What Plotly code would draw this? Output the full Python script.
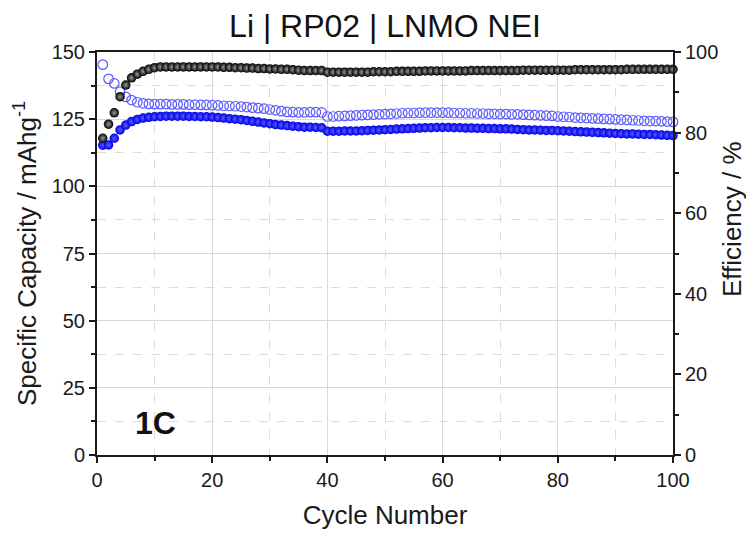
import plotly.graph_objects as go

cycles = list(range(1, 101))

charge_capacity = [
    145.3, 140.0, 138.3, 135.2, 133.3, 132.1, 131.3, 130.9, 130.7, 130.6,
    130.6, 130.6, 130.5, 130.5, 130.5, 130.4, 130.4, 130.3, 130.3, 130.2,
    130.1, 130.0, 129.9, 129.8, 129.7, 129.5, 129.3, 129.1, 128.9, 128.6,
    128.3, 128.0, 127.7, 127.6, 127.5, 127.5, 127.6, 127.6, 127.5, 126.0,
    126.0, 126.1, 126.2, 126.3, 126.4, 126.5, 126.6, 126.7, 126.8, 126.9,
    127.0, 127.1, 127.2, 127.3, 127.3, 127.4, 127.4, 127.4, 127.4, 127.4,
    127.4, 127.3, 127.3, 127.2, 127.2, 127.1, 127.1, 127.0, 127.0, 126.9,
    126.9, 126.8, 126.8, 126.7, 126.6, 126.5, 126.4, 126.3, 126.2, 126.0,
    125.9, 125.8, 125.6, 125.5, 125.4, 125.3, 125.2, 125.1, 125.0, 124.9,
    124.8, 124.7, 124.6, 124.5, 124.4, 124.3, 124.3, 124.2, 124.1, 124.0,
]

discharge_capacity = [
    115.3, 115.4, 117.9, 121.0, 122.8, 124.1, 124.9, 125.4, 125.7, 125.9,
    126.0, 126.1, 126.1, 126.1, 126.1, 126.0, 126.0, 125.9, 125.9, 125.8,
    125.6, 125.4, 125.2, 125.0, 124.8, 124.5, 124.2, 123.9, 123.6, 123.3,
    123.0, 122.8, 122.6, 122.4, 122.2, 122.0, 122.0, 121.9, 121.8, 120.5,
    120.5, 120.5, 120.6, 120.6, 120.6, 120.7, 120.8, 120.9, 121.0, 121.1,
    121.2, 121.3, 121.4, 121.5, 121.6, 121.7, 121.8, 121.8, 121.9, 121.9,
    121.9, 121.8, 121.8, 121.7, 121.7, 121.6, 121.6, 121.5, 121.5, 121.4,
    121.4, 121.3, 121.2, 121.1, 121.0, 121.0, 120.9, 120.8, 120.8, 120.7,
    120.6, 120.5, 120.4, 120.3, 120.2, 120.1, 120.0, 119.9, 119.8, 119.7,
    119.6, 119.5, 119.5, 119.4, 119.3, 119.3, 119.2, 119.1, 119.0, 118.9,
]

efficiency = [
    78.6, 82.1, 84.9, 88.9, 91.8, 93.6, 94.5, 95.2, 95.7, 96.1,
    96.3, 96.3, 96.3, 96.3, 96.3, 96.3, 96.3, 96.3, 96.3, 96.3,
    96.3, 96.2, 96.2, 96.1, 96.1, 96.0, 96.0, 95.9, 95.9, 95.8,
    95.8, 95.7, 95.7, 95.6, 95.5, 95.4, 95.4, 95.4, 95.4, 95.0,
    95.0, 95.0, 95.0, 95.0, 95.0, 95.0, 95.0, 95.1, 95.1, 95.1,
    95.1, 95.2, 95.2, 95.2, 95.2, 95.2, 95.3, 95.3, 95.3, 95.3,
    95.3, 95.3, 95.3, 95.3, 95.4, 95.4, 95.4, 95.4, 95.4, 95.4,
    95.4, 95.4, 95.4, 95.5, 95.5, 95.5, 95.5, 95.5, 95.5, 95.5,
    95.5, 95.5, 95.6, 95.6, 95.6, 95.6, 95.6, 95.6, 95.6, 95.6,
    95.6, 95.7, 95.7, 95.7, 95.7, 95.7, 95.7, 95.7, 95.7, 95.7,
]

x_ticks = [0, 20, 40, 60, 80, 100]
y_ticks = [0, 25, 50, 75, 100, 125, 150]
y2_ticks = [0, 20, 40, 60, 80, 100]

title_text = "Li | RP02 | LNMO NEI"
x_title = "Cycle Number"
y_title = "Specific Capacity / mAhg<sup>-1</sup>"
y2_title = "Efficiency / %"
rate_label = "<b>1C</b>"

FONT = "Liberation Sans, Arial, sans-serif"
INK = "#1a1a1a"

fig = go.Figure()

fig.add_trace(go.Scatter(
    x=cycles, y=charge_capacity, mode="markers", name="Charge",
    marker=dict(symbol="circle-open", size=9.5, color="#5a5aff",
                line=dict(width=1.2, color="#5a5aff")),
    cliponaxis=False,
))
fig.add_trace(go.Scatter(
    x=cycles, y=discharge_capacity, mode="markers", name="Discharge",
    marker=dict(symbol="circle", size=9.5, color="#0000e8",
                gradient=dict(type="radial", color="#5c5cff"),
                line=dict(width=0)),
    cliponaxis=False,
))
fig.add_trace(go.Scatter(
    x=cycles, y=efficiency, mode="markers", name="Efficiency", yaxis="y2",
    marker=dict(symbol="circle", size=9.5, color="#000000",
                gradient=dict(type="radial", color="#9a9a9a"),
                line=dict(width=0)),
    cliponaxis=False,
))

tick_font = dict(family=FONT, size=20, color=INK)
title_font = dict(family=FONT, size=26, color=INK)

fig.update_layout(
    width=746, height=534,
    margin=dict(l=97, r=73, t=52, b=79, autoexpand=False),
    paper_bgcolor="white", plot_bgcolor="white",
    showlegend=False,
    title=dict(text=title_text, xref="paper", x=0.5, xanchor="center",
               yref="container", y=0.951, yanchor="middle",
               font=dict(family=FONT, size=32, color="#111111")),
    xaxis=dict(
        range=[0, 100], tickmode="array", tickvals=x_ticks,
        showline=True, linecolor=INK, linewidth=2, mirror=True,
        ticks="outside", ticklen=6, tickwidth=1.5, tickcolor=INK,
        tickfont=tick_font, automargin=False,
        showgrid=True, gridcolor="#d9d9d9", gridwidth=1,
        minor=dict(dtick=10, tick0=0, ticks="outside", ticklen=4, tickcolor=INK,
                   showgrid=True, gridcolor="#dcdcdc", griddash="dash", gridwidth=1),
        zeroline=False,
        title=dict(text=x_title, font=title_font, standoff=16),
    ),
    yaxis=dict(
        range=[0, 150], tickmode="array", tickvals=y_ticks,
        showline=True, linecolor=INK, linewidth=2,
        ticks="outside", ticklen=6, tickwidth=1.5, tickcolor=INK,
        tickfont=tick_font, automargin=False,
        showgrid=True, gridcolor="#d9d9d9", gridwidth=1,
        minor=dict(dtick=12.5, tick0=0, ticks="outside", ticklen=4, tickcolor=INK,
                   showgrid=True, gridcolor="#dcdcdc", griddash="dash", gridwidth=1),
        zeroline=False,
        title=dict(text=y_title, font=title_font, standoff=8),
    ),
    yaxis2=dict(
        range=[0, 100], overlaying="y", side="right",
        tickmode="array", tickvals=y2_ticks,
        showline=True, linecolor=INK, linewidth=2,
        ticks="outside", ticklen=6, tickwidth=1.5, tickcolor=INK,
        tickfont=tick_font, showgrid=False, zeroline=False, automargin=False,
        minor=dict(dtick=10, tick0=0, ticks="outside", ticklen=4, tickcolor=INK, showgrid=False),
    ),
    annotations=[
        dict(text=rate_label, xref="paper", yref="paper", x=0.101, y=0.079,
             xanchor="center", yanchor="middle", showarrow=False,
             font=dict(family=FONT, size=32, color="#111111")),
        dict(text=y2_title, xref="paper", yref="paper", x=1.102, y=0.585,
             xanchor="center", yanchor="middle", showarrow=False, textangle=-90,
             font=title_font),
    ],
)

fig.write_html("out.html")
